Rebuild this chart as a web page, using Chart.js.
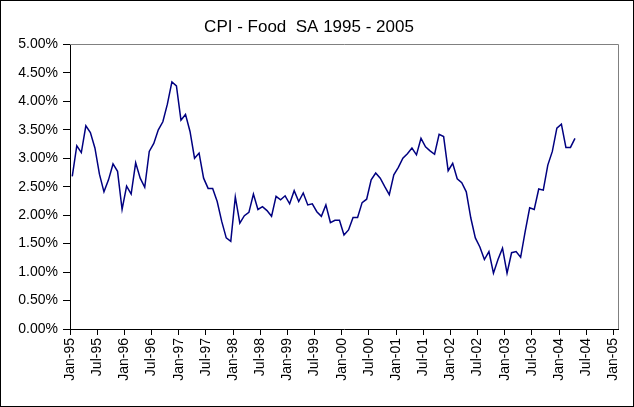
<!DOCTYPE html>
<html>
<head>
<meta charset="utf-8">
<title>CPI - Food SA 1995 - 2005</title>
<script src="https://cdn.jsdelivr.net/npm/chart.js@4.4.0/dist/chart.umd.min.js"></script>
<style>
  html, body { margin: 0; padding: 0; background: #fff; }
  canvas { display: block; }
</style>
</head>
<body>
<canvas id="cpiChart" width="634" height="407"></canvas>
<script>
// monthly values, Jan-95 .. Apr-04 (percent)
const cpiFood = [
    2.68, 3.22, 3.10, 3.57, 3.45, 3.18, 2.72, 2.41, 2.62, 2.90, 2.77, 2.10,
    2.51, 2.37, 2.92, 2.65, 2.49, 3.12, 3.26, 3.50, 3.64, 3.95, 4.34, 4.27,
    3.67, 3.77, 3.47, 3.00, 3.09, 2.65, 2.47, 2.47, 2.24, 1.89, 1.60, 1.54,
    2.32, 1.86, 1.99, 2.05, 2.37, 2.10, 2.15, 2.08, 1.98, 2.33, 2.27, 2.34,
    2.20, 2.43, 2.24, 2.39, 2.18, 2.20, 2.06, 1.98, 2.18, 1.87, 1.91, 1.91,
    1.65, 1.74, 1.96, 1.96, 2.22, 2.28, 2.62, 2.74, 2.65, 2.50, 2.36, 2.71,
    2.84, 3.00, 3.08, 3.18, 3.06, 3.35, 3.20, 3.13, 3.07, 3.42, 3.38, 2.78,
    2.91, 2.64, 2.57, 2.41, 1.95, 1.60, 1.44, 1.22, 1.36, 0.98, 1.22, 1.42,
    0.98, 1.34, 1.36, 1.26, 1.71, 2.13, 2.10, 2.46, 2.44, 2.88, 3.12, 3.53,
    3.60, 3.19, 3.19, 3.35
];

// x axis labels, one every 6 months
const tickLabels = [
    "Jan-95", "Jul-95", "Jan-96", "Jul-96", "Jan-97", "Jul-97", "Jan-98",
    "Jul-98", "Jan-99", "Jul-99", "Jan-00", "Jul-00", "Jan-01", "Jul-01",
    "Jan-02", "Jul-02", "Jan-03", "Jul-03", "Jan-04", "Jul-04", "Jan-05"
];

const monthsPerTick = 6;
const axisMonths = 121; // Jan-95 .. Feb-05

// points sit in the middle of their month
const points = cpiFood.map((v, i) => ({ x: i + 0.5, y: v }));

const font = { family: "Arial, 'Liberation Sans', sans-serif", size: 13 };

// white background, outer frame and the grey top/right edge of the plot
const framePlugin = {
    id: "frame",
    beforeDraw(chart) {
        const ctx = chart.ctx;
        ctx.save();
        ctx.fillStyle = "#fff";
        ctx.fillRect(0, 0, chart.width, chart.height);
        ctx.strokeStyle = "#000";
        ctx.lineWidth = 1;
        ctx.strokeRect(0.5, 0.5, chart.width - 1, chart.height - 1);
        ctx.restore();
    },
    beforeDatasetsDraw(chart) {
        const a = chart.chartArea;
        const ctx = chart.ctx;
        ctx.save();
        ctx.strokeStyle = "#808080";
        ctx.lineWidth = 1;
        ctx.beginPath();
        ctx.moveTo(a.left, Math.round(a.top) + 0.5);
        ctx.lineTo(Math.round(a.right) + 0.5, Math.round(a.top) + 0.5);
        ctx.lineTo(Math.round(a.right) + 0.5, a.bottom);
        ctx.stroke();
        ctx.restore();
    }
};

new Chart(document.getElementById("cpiChart"), {
    type: "line",
    data: {
        datasets: [{
            label: "CPI - Food SA",
            data: points,
            borderColor: "#000080",
            borderWidth: 1.5,
            pointRadius: 0,
            tension: 0,
            fill: false
        }]
    },
    options: {
        responsive: false,
        animation: false,
        devicePixelRatio: 1,
        layout: { padding: { left: 0, right: 16, top: 0, bottom: 0 } },
        plugins: {
            legend: { display: false },
            tooltip: { enabled: false },
            title: {
                display: true,
                text: "CPI - Food  SA 1995 - 2005",
                color: "#000",
                font: { family: font.family, size: 17, weight: "normal" },
                padding: { top: 17, bottom: 7 }
            }
        },
        scales: {
            x: {
                type: "linear",
                min: 0,
                max: axisMonths,
                afterBuildTicks: (axis) => {
                    axis.ticks = tickLabels.map((t, i) => ({ value: i * monthsPerTick }));
                },
                afterFit: (axis) => { axis.height = 78; },
                grid: { drawOnChartArea: false, drawTicks: true, tickLength: 6, color: "#000" },
                border: { color: "#000", width: 1 },
                ticks: {
                    color: "#000",
                    font: { family: font.family, size: 14 },
                    padding: 3,
                    minRotation: 90,
                    maxRotation: 90,
                    autoSkip: false,
                    callback: (value, index) => tickLabels[index]
                }
            },
            y: {
                min: 0,
                max: 5,
                afterFit: (axis) => { axis.width = 70; },
                grid: { drawOnChartArea: false, drawTicks: true, tickLength: 7, color: "#000" },
                border: { color: "#000", width: 1 },
                ticks: {
                    stepSize: 0.5,
                    color: "#000",
                    font: { family: font.family, size: 14 },
                    padding: 5,
                    callback: (value) => value.toFixed(2) + "%"
                }
            }
        }
    },
    plugins: [framePlugin]
});
</script>
</body>
</html>
